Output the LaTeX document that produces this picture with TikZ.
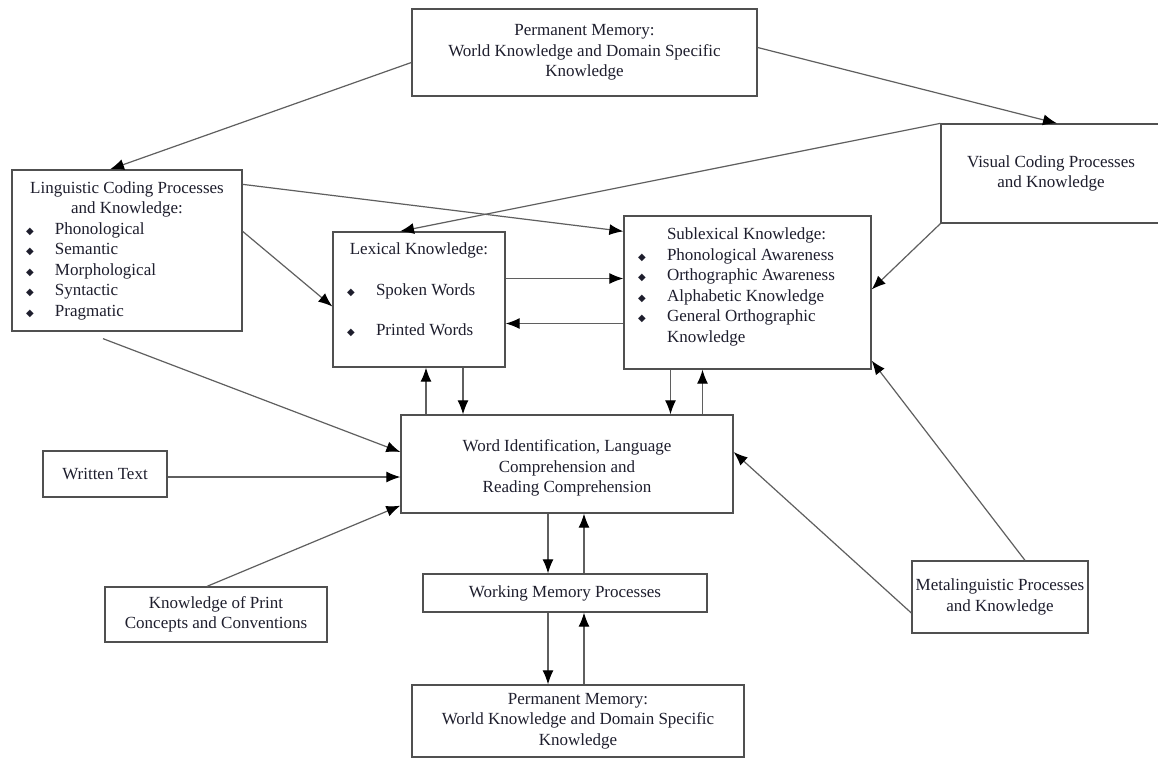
\documentclass[tikz,border=0pt]{standalone}
\usepackage{fontspec}
\setmainfont{Liberation Serif}
\newfontfamily\symfont{DejaVu Sans}
\usetikzlibrary{arrows.meta}
\definecolor{inkline}{RGB}{95,95,95}
\definecolor{inkbox}{RGB}{80,80,80}
\definecolor{inktext}{RGB}{30,30,45}
\newcommand{\dmd}{{\symfont\fontsize{10}{10}\selectfont ◆}}
\newcommand{\ditem}[2]{\makebox[#1][l]{\hspace*{14pt}\makebox[29pt][l]{\dmd}#2}}
\newcommand{\dline}[2]{\makebox[#1][l]{\hspace*{43pt}#2}}

\begin{document}
\begin{tikzpicture}[
    x=1pt, y=-1pt,
    font=\fontsize{17}{20.5}\selectfont,
    box/.style={draw=inkbox, line width=1.3pt, rectangle, align=center, text=inktext, inner sep=0pt},
    arr/.style={draw=inkline, line width=1.2pt, -{Latex[length=14pt, width=11pt, color=black]}}
]
\path[use as bounding box, fill=white] (0,0) rectangle (1158,760);

% boxes
\node[box, minimum width=345pt, minimum height=87pt] (pmtop) at (584.5,52.5) {Permanent Memory:\\World Knowledge and Domain Specific\\Knowledge};
\node[box, minimum width=220pt, minimum height=99pt] (vis) at (1051,173.5) {Visual Coding Processes\\and Knowledge};
\node[box, minimum width=230pt, minimum height=161pt] (ling) at (127,250.5) {Linguistic Coding Processes\\and Knowledge:\\\ditem{230pt}{Phonological}\\\ditem{230pt}{Semantic}\\\ditem{230pt}{Morphological}\\\ditem{230pt}{Syntactic}\\\ditem{230pt}{Pragmatic}};
\node[box, minimum width=172pt, minimum height=135pt] (lex) at (419,299.5) {Lexical Knowledge:\\[20pt]\ditem{172pt}{Spoken Words}\\[20pt]\ditem{172pt}{Printed Words}\\[0pt]\mbox{}};
\node[box, minimum width=247pt, minimum height=153pt] (sub) at (747.5,292.5) {\dline{247pt}{Sublexical Knowledge:}\\\ditem{247pt}{Phonological Awareness}\\\ditem{247pt}{Orthographic Awareness}\\\ditem{247pt}{Alphabetic Knowledge}\\\ditem{247pt}{General Orthographic}\\\dline{247pt}{Knowledge}\\[-6pt]\mbox{}};
\node[box, minimum width=332pt, minimum height=98pt] (wi) at (567,464) {\mbox{}\\Word Identification, Language\\Comprehension and\\Reading Comprehension};
\node[box, minimum width=284pt, minimum height=38pt] (wmp) at (565,593) {Working Memory Processes};
\node[box, minimum width=332pt, minimum height=72pt] (pmbot) at (578,721) {Permanent Memory:\\World Knowledge and Domain Specific\\Knowledge};
\node[box, minimum width=124pt, minimum height=46pt] (wt) at (105,474) {Written Text};
\node[box, minimum width=222pt, minimum height=55pt] (kpc) at (216,614.5) {Knowledge of Print\\Concepts and Conventions};
\node[box, minimum width=176pt, minimum height=72pt] (meta) at (1000,597) {Metalinguistic Processes\\and Knowledge};

% connectors
\draw[arr] ([yshift=-10pt]pmtop.west) -- ([xshift=-17pt]ling.north);
\draw[arr] ([yshift=5pt]pmtop.east) -- ([xshift=6pt]vis.north);
\draw[arr] (vis.north west) -- ([xshift=-19pt]lex.north);
\draw[arr] (vis.south west) -- ([yshift=3pt]sub.east);
\draw[arr] ([yshift=-15pt]ling.north east) -- ([yshift=-16pt]sub.north west);
\draw[arr] ([yshift=-62pt]ling.north east) -- ([yshift=-7pt]lex.west);
\draw[arr] ([xshift=-24pt,yshift=-7pt]ling.south) -- ([yshift=12pt]wi.west);
\draw[arr] ([yshift=21pt]lex.east) -- ([yshift=21pt]lex.east -| sub.west);
\draw[arr] ([yshift=-24pt]lex.east -| sub.west) -- ([yshift=-24pt]lex.east);
\draw[arr] ([xshift=7pt]lex.south |- wi.north) -- ([xshift=7pt]lex.south);
\draw[arr] ([xshift=44pt]lex.south) -- ([xshift=44pt]lex.south |- wi.north);
\draw[arr] ([xshift=-77pt]sub.south) -- ([xshift=-77pt]sub.south |- wi.north);
\draw[arr] ([xshift=-45pt]sub.south |- wi.north) -- ([xshift=-45pt]sub.south);
\draw[arr] ([xshift=-19pt]wi.south) -- ([xshift=-19pt]wi.south |- wmp.north);
\draw[arr] ([xshift=17pt]wi.south |- wmp.north) -- ([xshift=17pt]wi.south);
\draw[arr] ([xshift=-19pt]wi.south |- wmp.south) -- ([xshift=-19pt]wi.south |- pmbot.north);
\draw[arr] ([xshift=17pt]wi.south |- pmbot.north) -- ([xshift=17pt]wi.south |- wmp.south);
\draw[arr] ([yshift=-3pt]wt.east) -- ([yshift=-3pt]wt.east -| wi.west);
\draw[arr] ([xshift=-9pt]kpc.north) -- ([yshift=8pt]wi.south west);
\draw[arr] ([xshift=25pt]meta.north) -- ([yshift=9pt]sub.south east);
\draw[arr] ([yshift=-16pt]meta.west) -- ([yshift=12pt]wi.east);
\end{tikzpicture}
\end{document}
